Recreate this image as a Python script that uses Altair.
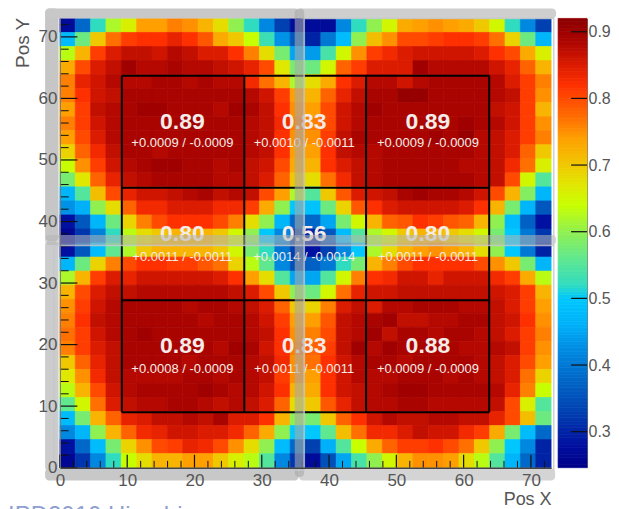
import altair as alt
import pandas as pd
import numpy as np

# efficiency map, rows from the top (Pos Y high) to the bottom, 32 bins per row
# upper half: left sensor then right sensor
U01 = [.27,.38,.52,.62,.66,.74,.74,.76,.75,.72,.68,.60,.52,.42,.33,.27, .27,.27,.42,.52,.60,.65,.73,.74,.75,.74,.73,.70,.65,.52,.42,.33]
U02 = [.48,.57,.70,.77,.81,.82,.82,.84,.82,.79,.73,.70,.64,.53,.43,.36, .30,.40,.48,.60,.71,.75,.80,.80,.81,.82,.82,.81,.77,.69,.57,.47]
U03 = [.63,.72,.81,.85,.87,.87,.86,.88,.87,.85,.85,.82,.76,.68,.58,.45, .44,.54,.65,.75,.81,.83,.85,.86,.86,.86,.86,.85,.82,.80,.73,.66]
U04 = [.73,.80,.85,.87,.90,.88,.88,.89,.88,.88,.87,.86,.84,.80,.67,.58, .57,.65,.78,.81,.85,.85,.85,.90,.88,.88,.88,.88,.86,.84,.78,.72]
U05 = [.76,.84,.86,.88,.88,.88,.89,.89,.88,.89,.88,.88,.83,.77,.72,.62, .68,.73,.82,.85,.88,.88,.86,.88,.89,.89,.89,.89,.88,.85,.81,.76]
U06 = [.76,.82,.86,.87,.89,.89,.89,.89,.89,.89,.89,.89,.88,.86,.81,.74, .72,.78,.84,.87,.89,.89,.91,.91,.89,.89,.89,.89,.88,.87,.81,.75]
U07 = [.74,.81,.87,.88,.89,.90,.90,.89,.89,.89,.88,.90,.89,.87,.82,.75, .74,.80,.86,.88,.90,.89,.89,.89,.89,.89,.89,.89,.87,.86,.81,.72]
U08 = [.76,.81,.86,.88,.89,.89,.89,.89,.90,.89,.89,.89,.88,.87,.83,.76, .76,.80,.86,.88,.89,.89,.89,.89,.89,.89,.90,.89,.88,.86,.81,.75]
U09 = [.74,.80,.85,.88,.89,.89,.89,.89,.89,.89,.89,.89,.88,.87,.82,.75, .75,.81,.87,.89,.89,.89,.89,.89,.90,.89,.91,.88,.87,.85,.81,.76]
U10 = [.69,.78,.83,.87,.89,.89,.88,.89,.89,.89,.89,.89,.88,.87,.82,.74, .74,.82,.87,.88,.88,.89,.89,.89,.89,.89,.89,.88,.87,.85,.78,.70]
U11 = [.64,.75,.81,.86,.88,.89,.90,.90,.89,.89,.88,.89,.87,.86,.80,.73, .72,.82,.85,.87,.88,.89,.89,.89,.89,.89,.88,.88,.87,.83,.77,.66]
U12 = [.58,.67,.78,.84,.87,.88,.89,.89,.89,.89,.88,.88,.87,.85,.78,.70, .68,.77,.83,.87,.88,.89,.89,.89,.89,.89,.89,.88,.87,.80,.65,.55]
U13 = [.47,.55,.71,.80,.84,.86,.86,.87,.88,.89,.87,.88,.87,.80,.74,.62, .55,.70,.79,.85,.86,.87,.89,.90,.89,.89,.88,.86,.80,.72,.59,.47]
U14 = [.43,.46,.60,.68,.78,.83,.83,.85,.85,.85,.83,.83,.81,.73,.60,.50, .49,.57,.69,.79,.82,.85,.86,.86,.86,.86,.85,.82,.72,.58,.47,.36]
U15 = [.28,.36,.47,.57,.69,.76,.80,.82,.82,.82,.80,.76,.68,.60,.47,.38, .38,.45,.58,.65,.72,.78,.79,.82,.81,.79,.78,.72,.60,.48,.37,.28]
U16 = [.26,.32,.41,.52,.63,.68,.70,.72,.72,.72,.70,.65,.60,.50,.42,.33, .30,.36,.48,.55,.62,.65,.70,.72,.72,.70,.68,.65,.58,.50,.40,.32]
# lower half
L01 = [.28,.36,.48,.56,.62,.70,.72,.72,.72,.72,.70,.65,.58,.52,.40,.33, .28,.33,.42,.50,.62,.68,.72,.74,.75,.74,.72,.68,.60,.50,.40,.30]
L02 = [.47,.57,.69,.76,.80,.82,.82,.81,.81,.79,.77,.69,.63,.56,.42,.35, .37,.40,.52,.58,.72,.76,.80,.82,.82,.82,.82,.80,.75,.70,.58,.47]
L03 = [.62,.72,.81,.85,.84,.86,.86,.86,.86,.86,.85,.82,.74,.68,.55,.45, .45,.55,.65,.76,.82,.83,.86,.86,.84,.86,.86,.86,.83,.81,.73,.63]
L04 = [.72,.80,.85,.87,.87,.88,.88,.88,.88,.88,.88,.87,.85,.80,.70,.60, .57,.65,.77,.84,.86,.86,.87,.87,.87,.87,.87,.87,.86,.85,.81,.72]
L05 = [.75,.81,.86,.88,.89,.89,.89,.89,.88,.89,.89,.88,.87,.85,.78,.70, .69,.76,.85,.87,.85,.88,.88,.89,.89,.89,.88,.88,.87,.85,.81,.74]
L06 = [.76,.82,.87,.88,.89,.89,.89,.89,.89,.88,.89,.89,.88,.86,.81,.74, .74,.79,.87,.88,.89,.90,.87,.87,.88,.88,.89,.89,.87,.86,.82,.75]
L07 = [.77,.81,.86,.88,.89,.90,.89,.89,.89,.89,.89,.89,.88,.87,.82,.75, .76,.80,.87,.88,.90,.87,.89,.89,.88,.89,.89,.88,.87,.85,.81,.76]
L08 = [.76,.81,.85,.87,.89,.89,.89,.89,.89,.89,.88,.90,.89,.86,.82,.76, .78,.81,.87,.90,.88,.90,.89,.89,.89,.89,.88,.88,.88,.87,.81,.75]
L09 = [.70,.78,.84,.87,.89,.89,.89,.89,.88,.89,.89,.89,.88,.87,.83,.75, .77,.82,.86,.88,.89,.89,.88,.89,.89,.89,.89,.88,.87,.85,.80,.74]
L10 = [.67,.75,.83,.87,.88,.88,.88,.88,.89,.89,.88,.89,.88,.87,.81,.75, .74,.82,.86,.88,.88,.88,.89,.89,.89,.88,.89,.88,.87,.85,.77,.69]
L11 = [.63,.72,.80,.86,.88,.89,.89,.89,.89,.90,.89,.88,.88,.86,.82,.72, .73,.82,.86,.87,.88,.89,.90,.90,.89,.89,.89,.89,.88,.84,.76,.64]
L12 = [.56,.65,.77,.85,.87,.88,.88,.89,.89,.88,.87,.88,.87,.85,.78,.68, .70,.79,.84,.87,.88,.88,.89,.89,.88,.88,.88,.88,.87,.80,.66,.55]
L13 = [.48,.58,.72,.78,.84,.85,.87,.87,.88,.87,.89,.85,.85,.82,.72,.60, .58,.70,.78,.82,.86,.88,.87,.87,.88,.88,.87,.87,.84,.80,.71,.57]
L14 = [.42,.47,.60,.72,.78,.83,.84,.86,.86,.85,.85,.83,.78,.73,.60,.50, .50,.56,.71,.77,.83,.83,.85,.87,.86,.86,.83,.81,.73,.58,.48,.38]
L15 = [.28,.38,.48,.58,.69,.75,.80,.81,.84,.83,.80,.75,.68,.60,.48,.38, .33,.46,.55,.64,.73,.78,.81,.81,.82,.80,.77,.70,.60,.50,.42,.30]
L16 = [.26,.32,.42,.52,.64,.68,.72,.72,.74,.74,.70,.66,.63,.55,.42,.32, .27,.35,.45,.54,.60,.65,.72,.75,.75,.74,.68,.63,.55,.47,.38,.30]
ROWS = [U01,U02,U03,U04,U05,U06,U07,U08,U09,U10,U11,U12,U13,U14,U15,U16,
        L01,L02,L03,L04,L05,L06,L07,L08,L09,L10,L11,L12,L13,L14,L15,L16]

AX_MAX = 73.0
BIN = AX_MAX / 32
W, H = 492, 450
Z_MIN, Z_MAX = 0.246, 0.92

stop_vals = [.246,.28,.33,.38,.42,.46,.50,.52,.56,.60,.64,.67,.70,.74,.77,.80,.82,.85,.88,.90,.92]
stop_cols = ["#000088","#0010a0","#0040b0","#0068c8","#0088e0","#00b0f8","#00c8ff","#30dcc0","#60e890","#90f050",
             "#c8ff00","#e0e800","#f0c800","#ffa000","#ff7000","#ff4a00","#ff3000","#dc1c00","#b40800","#a00000","#8b0000"]

cells = pd.DataFrame([
    dict(x0=c*BIN, x1=(c+1)*BIN, y0=AX_MAX-(r+1)*BIN, y1=AX_MAX-r*BIN, v=v)
    for r, row in enumerate(ROWS) for c, v in enumerate(row)
])

xs = alt.Scale(domain=[0, AX_MAX], nice=False, zero=False)
ys = alt.Scale(domain=[0, AX_MAX], nice=False, zero=False)
cs = alt.Scale(domain=stop_vals, range=stop_cols, interpolate="rgb", clamp=True)
FONT = "Liberation Sans"
AXC = "#555555"

def X(f, **k): return alt.X(f, type="quantitative", scale=xs, **k)
def Y(f, **k): return alt.Y(f, type="quantitative", scale=ys, **k)

x_axis = alt.Axis(values=[0,10,20,30,40,50,60,70], tickSize=0, labelPadding=5, labelFontSize=17, labelFont=FONT,
                  labelColor=AXC, domainColor="#444444", domainWidth=1.5, grid=False, zindex=1,
                  title="Pos X", titleFont=FONT, titleFontSize=18, titleFontWeight="normal", titleColor=AXC,
                  titleAnchor="end", titlePadding=2, labelFlush=False)
y_axis = alt.Axis(values=[0,10,20,30,40,50,60,70], tickSize=0, labelPadding=3, labelFontSize=17, labelFont=FONT,
                  labelColor=AXC, domainColor="#777777", domainWidth=1, grid=False, zindex=1, minExtent=52, maxExtent=52,
                  title="Pos Y", titleFont=FONT, titleFontSize=19, titleFontWeight="normal", titleColor=AXC,
                  titleX=-27, titleY=24)

heat = alt.Chart(cells).mark_rect(strokeWidth=0.7).encode(
    x=alt.X("x0:Q", scale=xs, axis=x_axis),
    x2="x1:Q",
    y=alt.Y("y0:Q", scale=ys, axis=y_axis),
    y2="y1:Q",
    color=alt.Color("v:Q", scale=cs, legend=None),
    stroke=alt.Stroke("v:Q", scale=cs, legend=None),
)

# minor and major ticks drawn inward, ROOT style
major = [0,10,20,30,40,50,60,70]
minor = [t for t in range(2,73,2) if t % 10]
def tick_df(vals, length): return pd.DataFrame({"t": vals, "a": 0.0, "b": length})
ytM = alt.Chart(tick_df(major, 2.6)).mark_rule(color="#111111", strokeWidth=1.2).encode(y=Y("t:Q"), x=X("a:Q"), x2="b:Q")
ytm = alt.Chart(tick_df(minor, 1.3)).mark_rule(color="#111111", strokeWidth=1).encode(y=Y("t:Q"), x=X("a:Q"), x2="b:Q")
xtM = alt.Chart(tick_df(major, 2.1)).mark_rule(color="#111111", strokeWidth=1.2).encode(x=X("t:Q"), y=Y("a:Q"), y2="b:Q")
xtm = alt.Chart(tick_df(minor, 1.1)).mark_rule(color="#111111", strokeWidth=1).encode(x=X("t:Q"), y=Y("a:Q"), y2="b:Q")

# black selection grid
grid_x = [9.2, 27.4, 45.5, 63.8]
grid_y = [9.0, 27.2, 45.5, 63.7]
gv = pd.DataFrame({"g": grid_x, "a": grid_y[0], "b": grid_y[-1]})
gh = pd.DataFrame({"g": grid_y, "a": grid_x[0], "b": grid_x[-1]})
gridV = alt.Chart(gv).mark_rule(color="#000000", strokeWidth=2).encode(x=X("g:Q"), y=Y("a:Q"), y2="b:Q")
gridH = alt.Chart(gh).mark_rule(color="#000000", strokeWidth=2).encode(y=Y("g:Q"), x=X("a:Q"), x2="b:Q")

# per-cell efficiencies
col_x = [18.2, 36.3, 54.7]
big_vals = ["0.89","0.83","0.89","0.80","0.56","0.80","0.89","0.83","0.88"]
small_vals = ["+0.0009 / -0.0009","+0.0010 / -0.0011","+0.0009 / -0.0009",
              "+0.0011 / -0.0011","+0.0014 / -0.0014","+0.0011 / -0.0011",
              "+0.0008 / -0.0009","+0.0011 / -0.0011","+0.0009 / -0.0009"]
big_y = [56.2, 37.9, 19.8]
small_y = [52.7, 34.2, 16.0]
lab = pd.DataFrame({
    "x": [col_x[i % 3] for i in range(9)],
    "yb": [big_y[i // 3] for i in range(9)],
    "ys": [small_y[i // 3] for i in range(9)],
    "big": big_vals, "small": small_vals,
})
bigT = alt.Chart(lab).mark_text(font=FONT, fontSize=23, fontWeight="bold", color="#f4ece8", align="center", baseline="middle").encode(
    x=X("x:Q"), y=Y("yb:Q"), text="big:N")
smallT = alt.Chart(lab).mark_text(font=FONT, fontSize=13, color="#f4ece8", align="center", baseline="middle").encode(
    x=X("x:Q"), y=Y("ys:Q"), text="small:N")

# slide shadow bands (data units), x0,x1,y0,y1,colour,opacity
bands = pd.DataFrame([
    dict(x0=-2.2, x1=-0.2, y0=36.8, y1=74.6, c="#c6c6c6", o=1.0),     # left, top half
    dict(x0=-2.2, x1=35.5, y0=73.0, y1=74.6, c="#c8c8c8", o=1.0),     # top, left
    dict(x0=35.3, x1=73.75, y0=73.0, y1=74.6, c="#cfcfcf", o=1.0),    # top, right
    dict(x0=-2.2, x1=-0.2, y0=-0.6, y1=36.8, c="#cccccc", o=1.0),     # left, bottom half
    dict(x0=-2.2, x1=35.5, y0=-2.1, y1=-0.1, c="#c8c8c8", o=1.0),     # bottom, left
    dict(x0=35.5, x1=73.6, y0=-2.1, y1=-0.1, c="#d4d4d4", o=1.0),     # bottom, right
    dict(x0=-2.2, x1=73.75, y0=36.2, y1=37.8, c="#b4b4b4", o=0.55),   # horizontal join
    dict(x0=34.9, x1=36.3, y0=-1.5, y1=74.6, c="#a8a8a8", o=0.6),     # vertical join
])
bandM = alt.Chart(bands).mark_rect(cornerRadius=4).encode(
    x=X("x0:Q"), x2="x1:Q", y=Y("y0:Q"), y2="y1:Q",
    color=alt.Color("c:N", scale=None), opacity=alt.Opacity("o:Q", scale=None))

# thin light frames around the pasted pieces
frames = pd.DataFrame([
    dict(x0=-0.9, x1=36.0, y0=36.1, y1=36.1),
    dict(x0=36.0, x1=73.4, y0=36.1, y1=36.1),
    dict(x0=-0.9, x1=-0.9, y0=-0.4, y1=36.1),
    dict(x0=36.3, x1=36.3, y0=-0.4, y1=73.0),
    dict(x0=73.4, x1=73.4, y0=-0.4, y1=73.0),
    dict(x0=36.3, x1=73.4, y0=73.0, y1=73.0),
    dict(x0=-0.9, x1=36.3, y0=-0.4, y1=-0.4),
])
frameM = alt.Chart(frames).mark_rule(color="#c4c8cc", strokeWidth=1.5, opacity=0.85).encode(
    x=X("x0:Q"), x2="x1:Q", y=Y("y0:Q"), y2="y1:Q")

foot = pd.DataFrame({"x": [-7.7], "y": [-5.9], "t": ["IPD2010 Hiroshima"]})
footT = alt.Chart(foot).mark_text(font=FONT, fontSize=24, color="#8e9fd0", align="left", baseline="top").encode(
    x=X("x:Q"), y=Y("y:Q"), text="t:N")

main = alt.layer(heat, gridV, gridH, ytM, ytm, xtM, xtm, bigT, smallT, bandM, frameM, footT).properties(width=W, height=H)

# colour bar
levels = np.linspace(Z_MIN, Z_MAX, 136)
bar_df = pd.DataFrame({"a": levels[:-1], "b": levels[1:], "v": (levels[:-1] + levels[1:]) / 2, "x0": 0.0, "x1": 1.0})
zs = alt.Scale(domain=[Z_MIN, Z_MAX], nice=False, zero=False)
bx = alt.Scale(domain=[0, 1])
bar = alt.Chart(bar_df).mark_rect(strokeWidth=0.7).encode(
    y=alt.Y("a:Q", scale=zs, title=None,
            axis=alt.Axis(orient="right", values=[.3,.4,.5,.6,.7,.8,.9], format=".1f", tickSize=0, labelPadding=1,
                          labelFontSize=16, labelFont=FONT, labelColor=AXC, domainColor="#777777", grid=False)),
    y2="b:Q",
    x=alt.X("x0:Q", scale=bx, axis=None, title=None),
    x2="x1:Q",
    color=alt.Color("v:Q", scale=cs, legend=None),
    stroke=alt.Stroke("v:Q", scale=cs, legend=None),
)
bar_ticks = pd.DataFrame({"t": [.3,.4,.5,.6,.7,.8,.9], "a": 0.45, "b": 1.0})
barT = alt.Chart(bar_ticks).mark_rule(color="#111111", strokeWidth=1.2).encode(
    y=alt.Y("t:Q", scale=zs), x=alt.X("a:Q", scale=bx), x2="b:Q")
cbar = alt.layer(bar, barT).properties(width=29, height=H)

chart = alt.hconcat(main, cbar, spacing=0).resolve_scale(color="independent", stroke="independent", x="independent", y="independent").properties(
    padding={"left": 0, "top": 0, "right": 0, "bottom": 0}, background="white"
).configure_view(stroke=None)

chart.save("out.html", embed_options={"renderer": "svg", "actions": False})
